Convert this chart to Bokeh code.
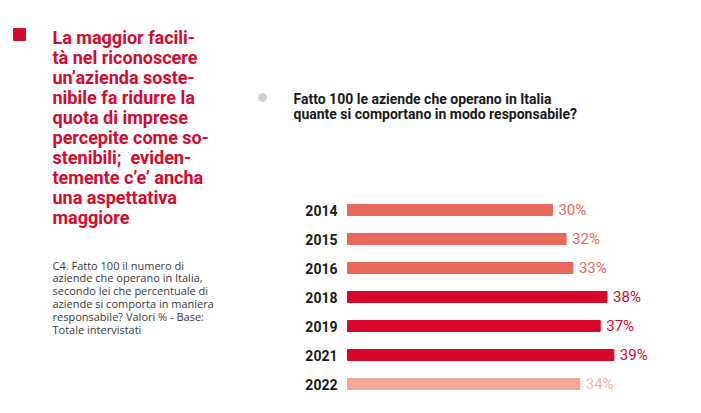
from bokeh.plotting import figure
from bokeh.models import Range1d, ColumnDataSource
from bokeh.embed import file_html
from bokeh.resources import INLINE
from bokeh.core.properties import value

# ---- data ----
years = ["2014", "2015", "2016", "2018", "2019", "2021", "2022"]
shares = [30, 32, 33, 38, 37, 39, 34]

headline = [
    "La maggior facili-",
    "tà nel riconoscere",
    "un’azienda soste-",
    "nibile fa ridurre la",
    "quota di imprese",
    "percepite come so-",
    "stenibili;\u00a0 eviden-",
    "temente c’e’ ancha",
    "una aspettativa",
    "maggiore",
]
note = [
    "C4. Fatto 100 il numero di",
    "aziende che operano in Italia,",
    "secondo lei che percentuale di",
    "aziende si comporta in maniera",
    "responsabile? Valori % - Base:",
    "Totale intervistati",
]
subtitle = [
    "Fatto 100 le aziende che operano in Italia",
    "quante si comportano in modo responsabile?",
]

# ---- styles ----
bar_colors = ["#E8685A", "#E8685A", "#E8685A", "#D9062C", "#D9062C", "#D9062C", "#F3A597"]
label_colors = ["#E8685A", "#E8685A", "#E8685A", "#D9062C", "#D9062C", "#D9062C", "#F4B3A6"]
RED = "#D40A2E"
FONT = "Roboto"

W, H = 701, 413
ZERO_PX = 347.0
PX_PER_PCT = 6.83
ROW0_PX = 209.5
ROW_PX = 29.0

p = figure(width=W, height=H, x_range=Range1d(0, W), y_range=Range1d(H, 0),
           output_backend="svg", toolbar_location=None, min_border=0,
           x_axis_location=None, y_axis_location=None)
p.grid.visible = False
p.outline_line_color = None
p.background_fill_color = "white"
p.border_fill_color = "white"

p.extra_x_ranges = {"pct": Range1d(-ZERO_PX / PX_PER_PCT, (W - ZERO_PX) / PX_PER_PCT)}
p.extra_y_ranges = {"row": Range1d((H - ROW0_PX) / ROW_PX, -ROW0_PX / ROW_PX)}

src = ColumnDataSource(dict(
    idx=list(range(len(years))),
    year=years,
    share=shares,
    lab=[f"{v}%" for v in shares],
    bc=bar_colors,
    lc=label_colors,
))

p.hbar(y="idx", left=0, right="share", height=0.38, color="bc", source=src,
       x_range_name="pct", y_range_name="row")
p.text(x=0, y="idx", text="year", source=src, x_range_name="pct", y_range_name="row",
       x_offset=-10, text_align="right", text_baseline="middle",
       text_font=value(FONT), text_font_style="bold", text_font_size="14px", text_color="#1a1a1a")
p.text(x="share", y="idx", text="lab", source=src, x_range_name="pct", y_range_name="row",
       x_offset=6, text_align="left", text_baseline="middle",
       text_font=value(FONT), text_font_size="15px", text_color="lc")

# ---- left headline ----
p.rect(x=[19], y=[34], width=12, height=12, color=RED)
p.text(x=[52] * len(headline), y=[37 + 20 * i for i in range(len(headline))], text=headline,
       text_align="left", text_baseline="alphabetic",
       text_font=value(FONT), text_font_style="bold", text_font_size="18px", text_color=RED)

# ---- note ----
p.text(x=[52] * len(note), y=[264.5 + 12.9 * i for i in range(len(note))], text=note,
       text_align="left", text_baseline="alphabetic",
       text_font=value("Open Sans"), text_font_size="11px", text_color="#3a3a3a")

# ---- subtitle ----
p.scatter(x=[262], y=[97], size=8, color="#D0D0D0")
p.text(x=[293, 293], y=[98, 113], text=subtitle,
       text_align="left", text_baseline="alphabetic",
       text_font=value(FONT), text_font_style="bold", text_font_size="14px", text_color="#1a1a1a")

open("out.html", "w").write(file_html(p, INLINE))
